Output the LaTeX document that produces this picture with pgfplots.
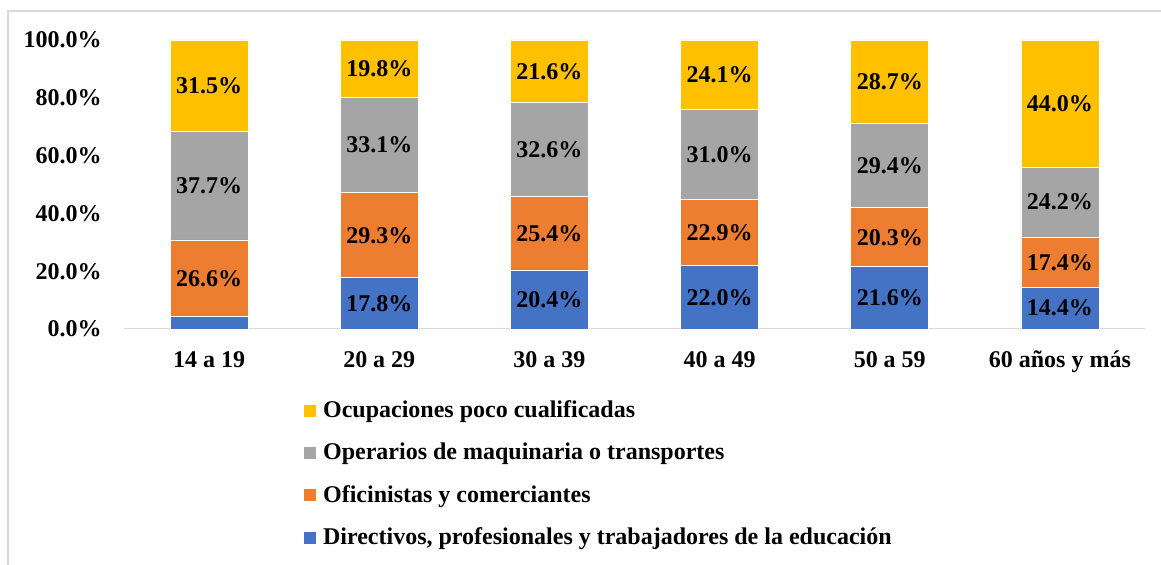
\documentclass[border=0pt]{standalone}
\usepackage{pgfplots}
\pgfplotsset{compat=1.18}
\usepackage{fontspec}
\setmainfont{Liberation Serif}
\definecolor{cblue}{HTML}{4472C4}
\definecolor{corange}{HTML}{ED7D31}
\definecolor{cgray}{HTML}{A5A5A5}
\definecolor{cyellow}{HTML}{FFC000}
\definecolor{cframe}{HTML}{D9D9D9}
\begin{document}
\fontsize{12}{14}\selectfont\bfseries
\begin{tikzpicture}
\useasboundingbox (0,0) rectangle (580.5pt,282.5pt);
\draw[cframe,line width=0.75pt] (4pt,-5pt) -- (4pt,277pt) -- (600pt,277pt);
\begin{axis}[
  at={(62pt,118pt)},anchor=south west,
  scale only axis,width=510.5pt,height=144.5pt,
  ybar stacked,bar width=39pt,
  xmin=-0.5,xmax=5.5,ymin=0,ymax=100,
  xtick={0,1,2,3,4,5},
  xticklabels={14 a 19,20 a 29,30 a 39,40 a 49,50 a 59,60 años y más},
  ytick={0,20,40,60,80,100},
  yticklabels={0.0\%,20.0\%,40.0\%,60.0\%,80.0\%,100.0\%},
  axis line style={draw=none},
  major tick length=0pt,
  xticklabel style={text height=8pt,text depth=3pt,yshift=-7pt,font=\bfseries},
  yticklabel style={xshift=-7pt,font=\bfseries},
  reverse legend,
  legend cell align=left,
  legend style={at={(0.176,-0.232)},anchor=north west,draw=none,fill=none,
    inner sep=0pt,row sep=7pt,font=\bfseries,
    /tikz/every odd column/.append style={column sep=1.5pt}},
  legend image code/.code={\fill[#1,draw=none] (0pt,-3pt) rectangle (6pt,3pt);},
  every axis plot/.append style={draw=white,line width=0.4pt},
]
\addplot[fill=cblue] coordinates {(0,4.2) (1,17.8) (2,20.4) (3,22.0) (4,21.6) (5,14.4)};
\addlegendentry{Directivos, profesionales y trabajadores de la educación}
\addplot[fill=corange] coordinates {(0,26.6) (1,29.3) (2,25.4) (3,22.9) (4,20.3) (5,17.4)};
\addlegendentry{Oficinistas y comerciantes}
\addplot[fill=cgray] coordinates {(0,37.7) (1,33.1) (2,32.6) (3,31.0) (4,29.4) (5,24.2)};
\addlegendentry{Operarios de maquinaria o transportes}
\addplot[fill=cyellow] coordinates {(0,31.5) (1,19.8) (2,21.6) (3,24.1) (4,28.7) (5,44.0)};
\addlegendentry{Ocupaciones poco cualificadas}
\draw[cframe,line width=0.75pt] (rel axis cs:0,0) -- (rel axis cs:1,0);
\end{axis}
\begin{axis}[
  at={(62pt,118pt)},anchor=south west,
  scale only axis,width=510.5pt,height=144.5pt,
  xmin=-0.5,xmax=5.5,ymin=0,ymax=100,
  hide axis,
]
\addplot[only marks,mark=none,nodes near coords,point meta=explicit symbolic,
  every node near coord/.append style={anchor=center,font=\bfseries,inner sep=0pt}]
  table[meta=label] {
x y label
0 17.5 26.6\%
0 49.65 37.7\%
0 84.25 31.5\%
1 8.9 17.8\%
1 32.45 29.3\%
1 63.65 33.1\%
1 90.1 19.8\%
2 10.2 20.4\%
2 33.1 25.4\%
2 62.1 32.6\%
2 89.2 21.6\%
3 11.0 22.0\%
3 33.45 22.9\%
3 60.4 31.0\%
3 87.95 24.1\%
4 10.8 21.6\%
4 31.75 20.3\%
4 56.6 29.4\%
4 85.65 28.7\%
5 7.2 14.4\%
5 23.1 17.4\%
5 43.9 24.2\%
5 78.0 44.0\%
};
\end{axis}
\end{tikzpicture}
\end{document}
